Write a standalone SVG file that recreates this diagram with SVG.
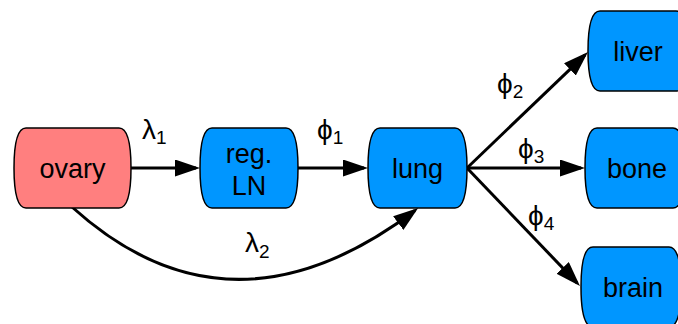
<svg xmlns="http://www.w3.org/2000/svg" width="678" height="324" viewBox="0 0 678 324">
<style>
.node{stroke:#000;stroke-width:1.5}
.blue{fill:#0096FF}
.red{fill:#FF7F7F}
.t{font-family:"Liberation Sans",Arial,sans-serif;font-size:27px;fill:#000;text-anchor:middle}
.lab{font-family:"Liberation Sans","DejaVu Sans",Arial,sans-serif;font-size:28px;fill:#000}
.sub{font-family:"Liberation Sans",Arial,sans-serif;font-size:19px}
.edge{fill:none;stroke:#000;stroke-width:3}
</style>
<defs>
<marker id="ah" markerUnits="userSpaceOnUse" markerWidth="26" markerHeight="18" refX="21" refY="8.5" orient="auto" viewBox="0 0 26 18">
<path d="M0,0 L25,8.5 L0,17 z" fill="#000"/>
</marker>
</defs>
<g id="edges">
<line class="edge" x1="131" y1="168" x2="196" y2="168" marker-end="url(#ah)"/>
<line class="edge" x1="298" y1="168" x2="364" y2="168" marker-end="url(#ah)"/>
<line class="edge" x1="467" y1="168" x2="585.1" y2="54.8" marker-end="url(#ah)"/>
<line class="edge" x1="467" y1="168" x2="581" y2="168" marker-end="url(#ah)"/>
<line class="edge" x1="467" y1="168" x2="577.2" y2="283.1" marker-end="url(#ah)"/>
<path class="edge" d="M72,207 Q230,350 415,210.5" marker-end="url(#ah)"/>
</g>
<g id="labels">
<text class="lab" x="142" y="139">λ<tspan class="sub" dy="5">1</tspan></text>
<text class="lab" x="317" y="139">ϕ<tspan class="sub" dy="5">1</tspan></text>
<text class="lab" x="497" y="93">ϕ<tspan class="sub" dy="5">2</tspan></text>
<text class="lab" x="518" y="158">ϕ<tspan class="sub" dy="5">3</tspan></text>
<text class="lab" x="528" y="225">ϕ<tspan class="sub" dy="5">4</tspan></text>
<text class="lab" x="245" y="252">λ<tspan class="sub" dy="6">2</tspan></text>
</g>
<g id="ovary">
<path class="node red" d="M26,128 H119 C128,128 131,146 131,168 C131,190 128,208 119,208 H26 C17,208 14,190 14,168 C14,146 17,128 26,128 Z"/>
<text class="t" x="72.5" y="177.5">ovary</text>
</g>
<g id="regLN">
<path class="node blue" d="M212,128 H286 C295,128 298,146 298,168 C298,190 295,208 286,208 H212 C203,208 200,190 200,168 C200,146 203,128 212,128 Z"/>
<text class="t" x="249" y="163">reg.</text>
<text class="t" x="249" y="195">LN</text>
</g>
<g id="lung">
<path class="node blue" d="M380,128 H455 C464,128 467,146 467,168 C467,190 464,208 455,208 H380 C371,208 368,190 368,168 C368,146 371,128 380,128 Z"/>
<text class="t" x="417.5" y="177.5">lung</text>
</g>
<g id="liver">
<path class="node blue" d="M600,11 H676 C685,11 688,29 688,51 C688,73 685,91 676,91 H600 C591,91 588,73 588,51 C588,29 591,11 600,11 Z"/>
<text class="t" x="638" y="60.5">liver</text>
</g>
<g id="bone">
<path class="node blue" d="M597,128 H673 C682,128 685,146 685,168 C685,190 682,208 673,208 H597 C588,208 585,190 585,168 C585,146 588,128 597,128 Z"/>
<text class="t" x="637" y="177.5">bone</text>
</g>
<g id="brain">
<path class="node blue" d="M593,247 H669 C678,247 681,265 681,287 C681,309 678,327 669,327 H593 C584,327 581,309 581,287 C581,265 584,247 593,247 Z"/>
<text class="t" x="633" y="297">brain</text>
</g>
</svg>
